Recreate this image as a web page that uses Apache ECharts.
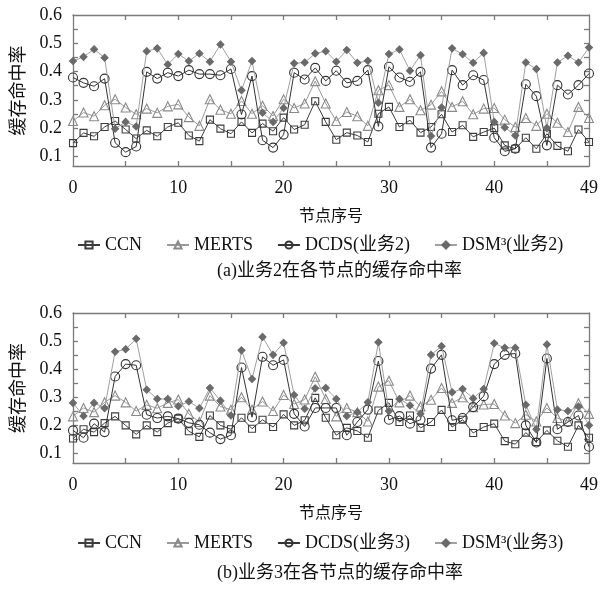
<!DOCTYPE html>
<html><head><meta charset="utf-8">
<script src="https://cdn.jsdelivr.net/npm/echarts@6/dist/echarts.min.js"></script>
<style>html,body{margin:0;padding:0;background:#fff}#c{width:601px;height:589px}</style>
</head><body><div id="c"></div>
<script>
const nodes = [0,1,2,3,4,5,6,7,8,9,10,11,12,13,14,15,16,17,18,19,20,21,22,23,24,25,26,27,28,29,30,31,32,33,34,35,36,37,38,39,40,41,42,43,44,45,46,47,48,49];
const xTickLabels = [0,10,20,30,40,49];
const yTickLabels = [0.1,0.2,0.3,0.4,0.5,0.6];

// (a) 业务2
const ccnA   = [0.147,0.183,0.171,0.204,0.225,0.195,0.163,0.192,0.171,0.204,0.219,0.174,0.154,0.230,0.198,0.180,0.222,0.183,0.216,0.189,0.237,0.195,0.212,0.295,0.222,0.159,0.184,0.174,0.151,0.251,0.275,0.204,0.228,0.184,0.204,0.249,0.186,0.210,0.169,0.186,0.200,0.139,0.127,0.166,0.127,0.180,0.137,0.118,0.195,0.151];
const mertsA = [0.225,0.255,0.242,0.281,0.302,0.273,0.249,0.269,0.254,0.277,0.284,0.239,0.208,0.302,0.265,0.251,0.296,0.251,0.279,0.243,0.302,0.271,0.287,0.366,0.287,0.225,0.257,0.242,0.208,0.334,0.352,0.275,0.302,0.263,0.283,0.330,0.275,0.295,0.249,0.269,0.271,0.230,0.204,0.236,0.208,0.251,0.219,0.186,0.275,0.236];
const dcdsA  = [0.379,0.360,0.348,0.375,0.148,0.115,0.135,0.399,0.375,0.396,0.384,0.405,0.391,0.391,0.387,0.409,0.248,0.384,0.157,0.131,0.177,0.396,0.372,0.413,0.367,0.403,0.360,0.367,0.405,0.206,0.417,0.379,0.364,0.399,0.131,0.180,0.405,0.352,0.387,0.370,0.166,0.118,0.127,0.355,0.313,0.139,0.352,0.319,0.352,0.393];
const dsmA   = [0.437,0.452,0.479,0.449,0.198,0.222,0.206,0.472,0.482,0.425,0.462,0.437,0.464,0.435,0.496,0.435,0.334,0.437,0.254,0.222,0.271,0.429,0.432,0.464,0.472,0.435,0.476,0.431,0.438,0.290,0.462,0.478,0.403,0.458,0.172,0.273,0.482,0.461,0.431,0.466,0.222,0.202,0.174,0.432,0.409,0.200,0.432,0.456,0.432,0.485];

// (b) 业务3
const ccnB   = [0.153,0.186,0.176,0.208,0.232,0.200,0.168,0.200,0.176,0.208,0.224,0.179,0.159,0.235,0.200,0.186,0.227,0.188,0.220,0.194,0.239,0.200,0.218,0.298,0.227,0.165,0.191,0.180,0.156,0.253,0.280,0.212,0.235,0.191,0.212,0.255,0.194,0.220,0.173,0.194,0.206,0.144,0.133,0.174,0.141,0.182,0.145,0.124,0.200,0.156];
const mertsB = [0.232,0.262,0.247,0.282,0.306,0.282,0.251,0.273,0.261,0.280,0.292,0.241,0.212,0.306,0.267,0.256,0.300,0.256,0.285,0.251,0.308,0.276,0.292,0.373,0.294,0.232,0.262,0.247,0.214,0.338,0.359,0.282,0.306,0.267,0.291,0.333,0.280,0.300,0.265,0.274,0.276,0.235,0.208,0.238,0.214,0.262,0.226,0.215,0.279,0.241];
const dcdsB  = [0.182,0.156,0.206,0.176,0.374,0.418,0.414,0.238,0.226,0.232,0.224,0.209,0.202,0.174,0.151,0.165,0.406,0.229,0.444,0.414,0.433,0.241,0.196,0.262,0.262,0.262,0.165,0.212,0.256,0.429,0.220,0.233,0.206,0.220,0.402,0.451,0.218,0.226,0.265,0.304,0.418,0.451,0.456,0.200,0.139,0.438,0.186,0.212,0.235,0.124];
const dsmB   = [0.280,0.233,0.280,0.261,0.462,0.471,0.508,0.327,0.294,0.294,0.268,0.285,0.261,0.333,0.288,0.235,0.467,0.365,0.515,0.451,0.494,0.308,0.259,0.332,0.333,0.294,0.233,0.247,0.282,0.496,0.251,0.294,0.271,0.241,0.451,0.482,0.318,0.329,0.296,0.329,0.492,0.476,0.476,0.273,0.186,0.488,0.256,0.251,0.267,0.200];

const namesA = ['CCN','MERTS','DCDS(业务2)','DSM³(业务2)'];
const namesB = ['CCN','MERTS','DCDS(业务3)','DSM³(业务3)'];
const xName = '节点序号';
const yName = '缓存命中率';
const captionA = '(a)业务2在各节点的缓存命中率';
const captionB = '(b)业务3在各节点的缓存命中率';

const SERIF = '"Liberation Serif","DejaVu Serif","Noto Sans CJK SC",serif';
const frame = {color:'#7a7a7a', width:1.3};
const styles = [
  {symbol:'rect', symbolSize:7, line:'#3c3c3c', border:'#3c3c3c', fill:'rgba(255,255,255,0)'},
  {symbol:'triangle', symbolSize:9, line:'#9a9a9a', border:'#8a8a8a', fill:'rgba(255,255,255,0)'},
  {symbol:'circle', symbolSize:9, line:'#333333', border:'#333333', fill:'rgba(255,255,255,0)'},
  {symbol:'diamond', symbolSize:7, line:'#a0a0a0', border:'#6a6a6a', fill:'#6a6a6a'}
];
const xTicks = [5,10,15,20,25,30,35,40,45];
const yTicks = [0.1,0.15,0.2,0.25,0.3,0.35,0.4,0.45,0.5,0.55];

function mkX(grid, pos, main){
  return {type:'value', gridIndex:grid, position:pos, min:0, max:49,
    axisLine:{show:true, onZero:false, lineStyle:frame},
    axisTick:{show:true, inside:true, length:5, customValues:xTicks, lineStyle:frame},
    axisLabel:{show:main, customValues:xTickLabels, margin:13, fontFamily:SERIF, fontSize:18, color:'#111'},
    splitLine:{show:false},
    name: main? xName : '', nameLocation:'middle', nameGap:43,
    nameTextStyle:{fontFamily:SERIF, fontSize:16, color:'#111'}};
}
function mkY(grid, pos, main){
  return {type:'value', gridIndex:grid, position:pos, min:0.066, max:0.6,
    axisLine:{show:true, onZero:false, lineStyle:frame},
    axisTick:{show:true, inside:true, length:5, customValues:yTicks, lineStyle:frame},
    axisLabel:{show:main, customValues:yTickLabels, margin:11, fontFamily:SERIF, fontSize:18, color:'#111',
      formatter:v=>Number(v).toFixed(1)},
    splitLine:{show:false},
    name: main? yName : '', nameLocation:'middle', nameGap:42,
    nameTextStyle:{fontFamily:SERIF, fontSize:18, color:'#111'}};
}
function mkSeries(names, arrays, axisIdx){
  return arrays.map((arr,k)=>({
    type:'line', name:names[k], xAxisIndex:axisIdx, yAxisIndex:axisIdx,
    data: nodes.map((n,i)=>[n, arr[i]]),
    symbol:styles[k].symbol, symbolSize:styles[k].symbolSize, showAllSymbol:true,
    lineStyle:{color:styles[k].line, width:1},
    itemStyle:{color:styles[k].fill, borderColor:styles[k].border, borderWidth:1.1},
    emphasis:{disabled:true}, animation:false, z:2+k
  }));
}
const chart = echarts.init(document.getElementById('c'), null, {renderer:'canvas'});
chart.setOption({
  animation:false,
  backgroundColor:'#fff',
  grid:[{left:73, right:9, top:15, height:151},{left:73, right:9, top:313, height:150}],
  xAxis:[mkX(0,'bottom',true), mkX(0,'top',false), mkX(1,'bottom',true), mkX(1,'top',false)],
  yAxis:[mkY(0,'left',true), mkY(0,'right',false), mkY(1,'left',true), mkY(1,'right',false)],
  legend:[
    {data:namesA, left:72, top:231, itemWidth:22, itemHeight:9, itemGap:24,
      textStyle:{fontFamily:SERIF, fontSize:18, color:'#111'}},
    {data:namesB, left:72, top:529, itemWidth:22, itemHeight:9, itemGap:24,
      textStyle:{fontFamily:SERIF, fontSize:18, color:'#111'}}
  ],
  title:[
    {text:captionA, left:212, top:257, textStyle:{fontFamily:SERIF, fontSize:18, fontWeight:'normal', color:'#111'}},
    {text:captionB, left:212, top:559, textStyle:{fontFamily:SERIF, fontSize:18, fontWeight:'normal', color:'#111'}}
  ],
  series:[...mkSeries(namesA,[ccnA,mertsA,dcdsA,dsmA],0), ...mkSeries(namesB,[ccnB,mertsB,dcdsB,dsmB],2)]
});
</script></body></html>
